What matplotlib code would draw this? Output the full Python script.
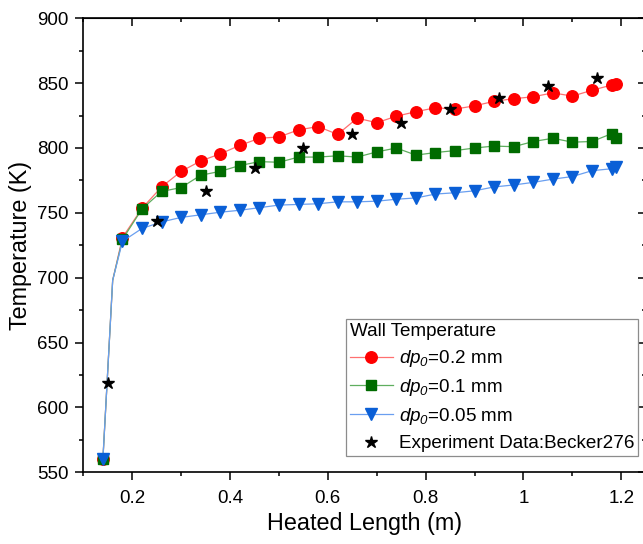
import matplotlib
matplotlib.use("Agg")
import matplotlib.pyplot as plt
from matplotlib.ticker import MultipleLocator

# heated length (m); 0.16 is a line-only point without marker
x_sim = [0.14, 0.16, 0.18, 0.22, 0.26, 0.30, 0.34, 0.38, 0.42, 0.46, 0.50,
         0.54, 0.58, 0.62, 0.66, 0.70, 0.74, 0.78, 0.82, 0.86, 0.90, 0.94,
         0.98, 1.02, 1.06, 1.10, 1.14, 1.18, 1.19]

t_02 = [560, 698, 731, 753.5, 770, 782, 790, 795.5, 802, 807.5, 808.5,
        814, 816.5, 810.5, 823, 819.5, 824.5, 828, 831, 830, 832.5, 836,
        838, 839.5, 842.5, 840, 844.5, 848.5, 849.5]
t_01 = [560, 698, 729.5, 753, 766.5, 769.5, 779, 782, 786.5, 789.5, 789,
        793, 793, 794, 793, 797, 800, 794.5, 796.5, 798, 800, 801.5,
        801, 805, 807.5, 804.5, 805, 811, 808]
t_005 = [560, 698, 728, 738, 743, 746.5, 748.5, 750.5, 752, 754, 756,
         756.5, 757, 758.5, 758.5, 759, 760.5, 761.5, 764.5, 765.5, 767, 770,
         771.5, 773.5, 776, 778, 782.5, 784, 785]

x_exp = [0.15, 0.25, 0.35, 0.45, 0.55, 0.65, 0.75, 0.85, 0.95, 1.05, 1.15]
t_exp = [618.5, 743.5, 767, 784.5, 800, 810.5, 819.5, 830, 838.5, 847.5, 854]

# \mathsf is mapped to the italic face so the subscript digit is slanted too
labels = [r"$dp_{\mathsf{0}}$=0.2 mm", r"$dp_{\mathsf{0}}$=0.1 mm",
          r"$dp_{\mathsf{0}}$=0.05 mm", "Experiment Data:Becker276"]

plt.rcParams['font.family'] = ['Liberation Sans', 'DejaVu Sans']
plt.rcParams['mathtext.fontset'] = 'custom'
plt.rcParams['mathtext.rm'] = 'Liberation Sans'
plt.rcParams['mathtext.it'] = 'Liberation Sans:italic'
plt.rcParams['mathtext.sf'] = 'Liberation Sans:italic'


def main():
    fig = plt.figure(figsize=(6.43, 5.44), dpi=100)
    ax = fig.add_axes([0.1296, 0.1318, 0.8747, 0.8346])

    marks = [0] + list(range(2, len(x_sim)))
    ax.plot(x_sim, t_02, '-', color='#ff7070', lw=0.9, marker='o', ms=8.3,
            mfc='#ff0000', mec='#ff0000', markevery=marks, label=labels[0])
    ax.plot(x_sim, t_01, '-', color='#5fae5f', lw=0.9, marker='s', ms=7,
            mfc='#006b00', mec='#006b00', markevery=marks, label=labels[1])
    ax.plot(x_sim, t_005, '-', color='#6a9ff0', lw=0.9, marker='v', ms=9,
            mfc='#0a5fd6', mec='#0a5fd6', markevery=marks, label=labels[2])
    ax.plot(x_exp, t_exp, '*', color='black', ms=9, ls='none', label=labels[3])

    ax.set_xlim(0.1, 1.25)
    ax.set_ylim(550, 900)
    ax.xaxis.set_major_locator(MultipleLocator(0.2))
    ax.xaxis.set_minor_locator(MultipleLocator(0.1))
    ax.yaxis.set_major_locator(MultipleLocator(50))
    ax.yaxis.set_minor_locator(MultipleLocator(25))
    ax.set_xticks([0.2, 0.4, 0.6, 0.8, 1.0, 1.2])
    ax.set_xticklabels(['0.2', '0.4', '0.6', '0.8', '1', '1.2'])
    ax.tick_params(which='major', direction='out', length=6, width=1.1,
                   labelsize=13.5, pad=4.5)
    ax.tick_params(axis='x', which='major', pad=6.5)
    ax.tick_params(which='minor', direction='out', length=3, width=1.1)
    for s in ax.spines.values():
        s.set_linewidth(1.2)

    # ticks pointing inwards on top and right
    top = ax.secondary_xaxis('top')
    top.xaxis.set_major_locator(MultipleLocator(0.2))
    top.xaxis.set_minor_locator(MultipleLocator(0.1))
    top.tick_params(which='major', direction='in', length=6, width=1.1, labeltop=False)
    top.tick_params(which='minor', direction='in', length=3, width=1.1)
    right = ax.secondary_yaxis('right')
    right.yaxis.set_major_locator(MultipleLocator(50))
    right.yaxis.set_minor_locator(MultipleLocator(25))
    right.tick_params(which='major', direction='in', length=6, width=1.1, labelright=False)
    right.tick_params(which='minor', direction='in', length=3, width=1.1)

    ax.set_xlabel('Heated Length (m)', fontsize=16.8, labelpad=4)
    ax.set_ylabel('Temperature (K)', fontsize=16.8, labelpad=4)

    leg = ax.legend(loc='lower right', bbox_to_anchor=(0.986, 0.036),
                    title='Wall Temperature', fontsize=13.6, title_fontsize=13.6,
                    fancybox=False, framealpha=1, edgecolor='#8c8c8c',
                    borderpad=0.2, labelspacing=0.42, handlelength=2.3,
                    handletextpad=0.3, borderaxespad=0, alignment='left')
    leg.get_frame().set_linewidth(0.9)

    fig.savefig('out.png', dpi=100)


if __name__ == "__main__":
    main()
